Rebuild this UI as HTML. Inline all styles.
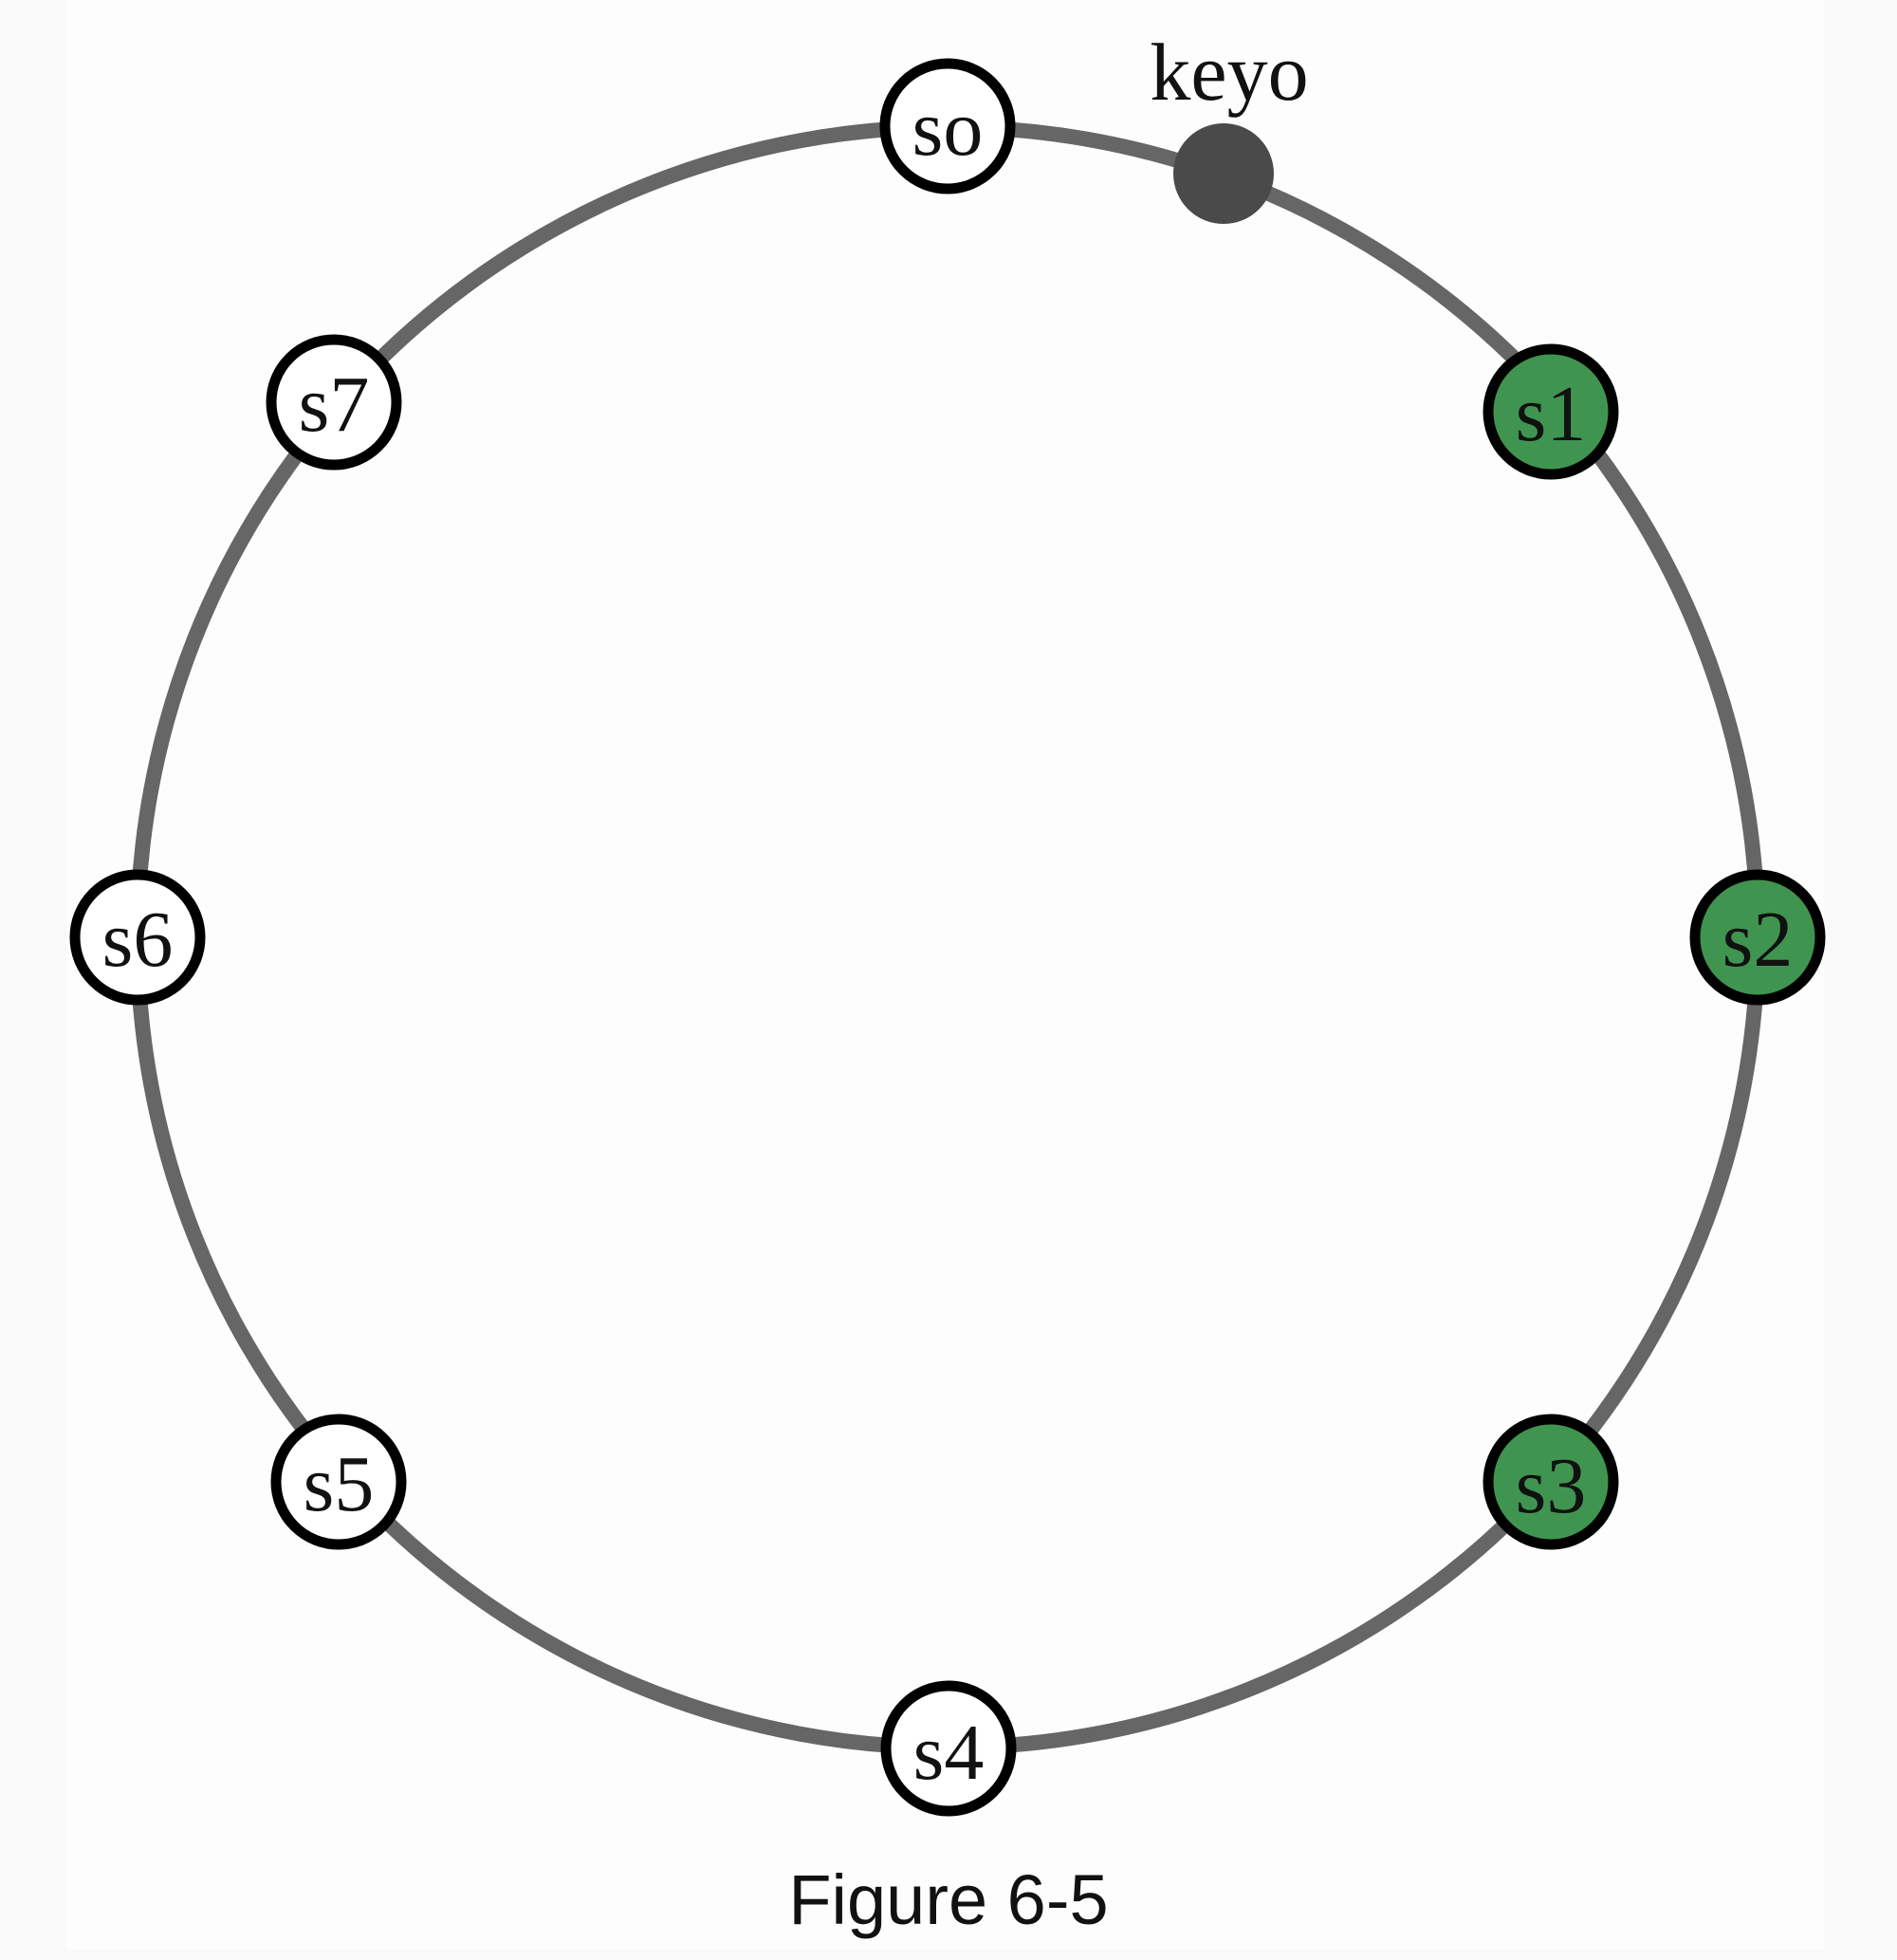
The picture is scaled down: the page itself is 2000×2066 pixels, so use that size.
<!DOCTYPE html>
<html><head><meta charset="utf-8"><style>
html,body{margin:0;padding:0;background:#f9f9f9;}
svg{display:block}
</style></head><body>
<svg width="2000" height="2066" viewBox="0 0 2000 2066" xmlns="http://www.w3.org/2000/svg">
<rect x="0" y="0" width="2000" height="2066" fill="#f9f9f9"/>
<rect x="70" y="0" width="1853" height="2055" fill="#fdfdfd"/>
<circle cx="999" cy="988" r="854" fill="none" stroke="#666" stroke-width="16"/>
<g stroke="#000" stroke-width="11" font-family="Liberation Serif, serif" text-anchor="middle">
<circle cx="999" cy="133" r="66" fill="#fff"/>
<circle cx="1635" cy="434" r="66" fill="#3f9550"/>
<circle cx="1853" cy="988" r="66" fill="#3f9550"/>
<circle cx="1635" cy="1562" r="66" fill="#3f9550"/>
<circle cx="1000" cy="1843" r="66" fill="#fff"/>
<circle cx="357" cy="1562" r="66" fill="#fff"/>
<circle cx="145" cy="988" r="66" fill="#fff"/>
<circle cx="352" cy="424" r="66" fill="#fff"/>
</g>
<circle cx="1290" cy="183" r="53" fill="#4a4a4a"/>
<g font-family="Liberation Serif, serif" font-size="84" text-anchor="middle" fill="#111">
<text x="999" y="163">so</text>
<text x="1635" y="464">s1</text>
<text x="1853" y="1018">s2</text>
<text x="1635" y="1594">s3</text>
<text x="1000" y="1875">s4</text>
<text x="357" y="1592">s5</text>
<text x="145" y="1018">s6</text>
<text x="352" y="454">s7</text>
<text x="1296" y="105" font-size="86">keyo</text>
</g>
<text x="1000" y="2028" font-family="Liberation Sans, sans-serif" font-size="74" text-anchor="middle" fill="#111">Figure 6-5</text>
</svg>
</body></html>
